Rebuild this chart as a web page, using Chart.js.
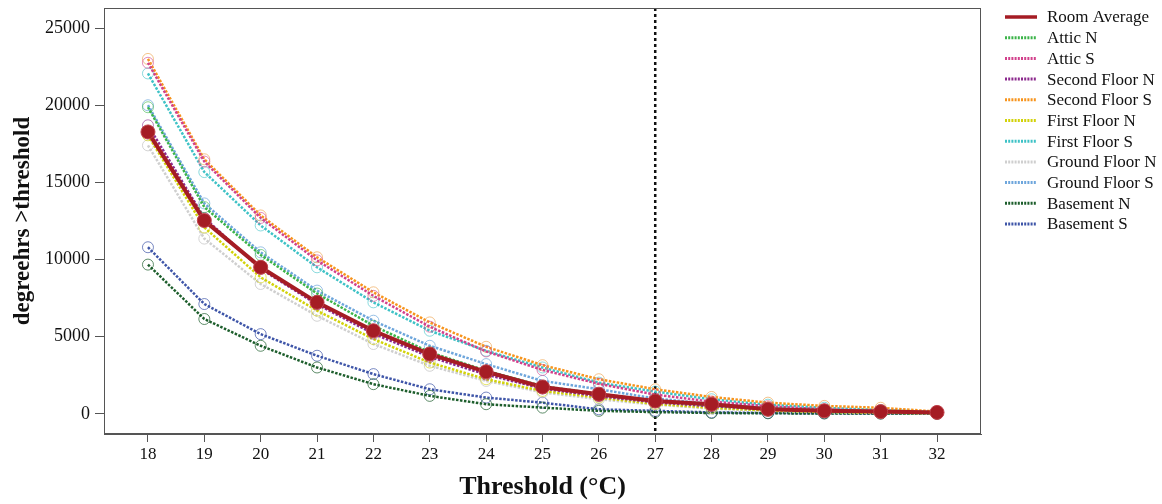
<!DOCTYPE html>
<html>
<head>
<meta charset="utf-8">
<script src="https://cdn.jsdelivr.net/npm/chart.js@4.4.0/dist/chart.umd.min.js"></script>
<style>
  html, body { margin: 0; padding: 0; background: #fff; }
  #wrap { width: 1162px; height: 504px; }
</style>
</head>
<body>
<div id="wrap"><canvas id="myChart" width="1162" height="504"></canvas></div>
<script>
// thresholds (°C) on the x axis
const thresholds = [18, 19, 20, 21, 22, 23, 24, 25, 26, 27, 28, 29, 30, 31, 32];
const yTicks = [0, 5000, 10000, 15000, 20000, 25000];
const cutoff = 27;

// degree-hours above threshold
const roomAverage     = [18270, 12530, 9500, 7230, 5390, 3880, 2730, 1750, 1280, 840, 630, 300, 200, 150, 100];
const atticN          = [19870, 13400, 10300, 7800, 5710, 4000, 2800, 1800, 1300, 850, 550, 350, 230, 150, 80];
const atticS          = [22750, 16350, 12700, 9950, 7650, 5650, 4050, 2850, 1950, 1250, 800, 500, 300, 200, 100];
const secondFloorN    = [18700, 12700, 9400, 7100, 5200, 3700, 2550, 1650, 1150, 750, 500, 300, 180, 120, 70];
const secondFloorS    = [23000, 16500, 12860, 10150, 7880, 5930, 4350, 3160, 2250, 1600, 1100, 730, 520, 400, 150];
const firstFloorN     = [18050, 12080, 8850, 6690, 4850, 3330, 2250, 1490, 1060, 650, 400, 220, 130, 80, 50];
const firstFloorS     = [22060, 15670, 12210, 9500, 7230, 5390, 4090, 3010, 2030, 1450, 950, 600, 400, 250, 120];
const groundFloorN    = [17400, 11360, 8420, 6360, 4530, 3120, 2140, 1400, 950, 600, 350, 200, 120, 70, 40];
const groundFloorS    = [20000, 13640, 10470, 7990, 6040, 4415, 3230, 2140, 1600, 1000, 650, 400, 250, 150, 80];
const basementN       = [9675, 6150, 4415, 3010, 1930, 1170, 630, 410, 200, 120, 60, 40, 30, 20, 10];
const basementS       = [10800, 7120, 5170, 3770, 2580, 1600, 1060, 730, 300, 200, 100, 60, 40, 30, 20];

const pts = vals => vals.map((v, i) => ({x: thresholds[i], y: v}));

const serif = "'Liberation Serif', 'Times New Roman', serif";

function dotted(label, vals, color, marker) {
  return {
    label: label,
    data: pts(vals),
    borderColor: color,
    borderWidth: 2.5,
    borderDash: [2.5, 1.5],
    pointRadius: 5.5,
    pointBorderWidth: 1,
    pointBorderColor: marker,
    pointBackgroundColor: 'rgba(0,0,0,0)',
    tension: 0
  };
}

const datasets = [
  {
    label: 'Room Average',
    data: pts(roomAverage),
    borderColor: '#a51c24',
    borderWidth: 4,
    pointRadius: 7,
    pointBorderWidth: 1,
    pointBorderColor: '#c0404a',
    pointBackgroundColor: '#a51c24',
    tension: 0
  },
  dotted('Attic N', atticN, '#3cb44a', 'rgba(60,180,74,0.6)'),
  dotted('Attic S', atticS, '#d2418c', 'rgba(210,65,140,0.6)'),
  dotted('Second Floor N', secondFloorN, '#8c2a8e', 'rgba(140,42,142,0.6)'),
  dotted('Second Floor S', secondFloorS, '#f7941d', 'rgba(240,170,90,0.7)'),
  dotted('First Floor N', firstFloorN, '#d2d20a', 'rgba(210,210,10,0.6)'),
  dotted('First Floor S', firstFloorS, '#3ec2c6', 'rgba(62,194,198,0.6)'),
  dotted('Ground Floor N', groundFloorN, '#cfcfcf', 'rgba(200,200,200,0.8)'),
  dotted('Ground Floor S', groundFloorS, '#6ea6dc', 'rgba(110,166,220,0.7)'),
  dotted('Basement N', basementN, '#1d5e2c', 'rgba(29,94,44,0.7)'),
  dotted('Basement S', basementS, '#3e55a8', 'rgba(62,85,168,0.7)')
];

// frame, cutoff line and legend
const extras = {
  id: 'extras',
  beforeDatasetsDraw(chart) {
    const {ctx, chartArea: a, scales} = chart;
    const x = scales.x.getPixelForValue(cutoff);
    ctx.save();
    ctx.strokeStyle = '#111';
    ctx.lineWidth = 2.5;
    ctx.setLineDash([3, 3]);
    ctx.beginPath();
    ctx.moveTo(x, a.top);
    ctx.lineTo(x, a.bottom);
    ctx.stroke();
    ctx.restore();
  },
  afterDraw(chart) {
    const {ctx, chartArea: a} = chart;
    ctx.save();
    ctx.strokeStyle = '#555';
    ctx.lineWidth = 1;
    ctx.strokeRect(a.left + 0.5, a.top + 0.5, a.right - a.left - 1, a.bottom - a.top - 1);

    // legend
    ctx.font = '17px ' + serif;
    ctx.textBaseline = 'middle';
    chart.data.datasets.forEach((ds, i) => {
      const y = 17 + i * 20.7;
      ctx.strokeStyle = ds.borderColor;
      ctx.lineWidth = i === 0 ? 3.5 : 3;
      ctx.setLineDash(i === 0 ? [] : [2, 1.2]);
      ctx.beginPath();
      ctx.moveTo(1005, y);
      ctx.lineTo(1037, y);
      ctx.stroke();
      ctx.setLineDash([]);
      ctx.fillStyle = '#111';
      ctx.fillText(ds.label, 1047, y + 1);
    });
    ctx.restore();
  }
};

const ctx = document.getElementById('myChart').getContext('2d');
new Chart(ctx, {
  type: 'line',
  data: {datasets: datasets},
  options: {
    responsive: false,
    animation: false,
    layout: {padding: {left: 0, top: 7, right: 181, bottom: 0}},
    plugins: {legend: {display: false}, tooltip: {enabled: false}},
    scales: {
      x: {
        type: 'linear',
        min: 17.22,
        max: 32.78,
        afterBuildTicks: s => { s.ticks = thresholds.map(v => ({value: v})); },
        afterFit: s => { s.height = 70; },
        grid: {display: true, drawOnChartArea: false, drawTicks: true, tickLength: 8, color: '#555'},
        border: {display: true, color: '#555'},
        ticks: {font: {family: serif, size: 17}, color: '#111', padding: 2, maxRotation: 0},
        title: {display: true, text: 'Threshold (°C)', font: {family: serif, size: 26, weight: 'bold'}, color: '#111', padding: {top: 0, bottom: 1}}
      },
      y: {
        min: -1300,
        max: 26300,
        afterBuildTicks: s => { s.ticks = yTicks.map(v => ({value: v})); },
        afterFit: s => { s.width = 104; s.paddingTop = 0; s.paddingBottom = 0; },
        grid: {display: true, drawOnChartArea: false, drawTicks: true, tickLength: 9, color: '#555'},
        border: {display: true, color: '#555'},
        ticks: {font: {family: serif, size: 18}, color: '#111', padding: 5, callback: v => String(v)},
        title: {display: true, text: 'degreehrs >threshold', font: {family: serif, size: 23, weight: 'bold'}, color: '#111', padding: {top: 9, bottom: 0}}
      }
    }
  },
  plugins: [extras]
});
</script>
</body>
</html>
